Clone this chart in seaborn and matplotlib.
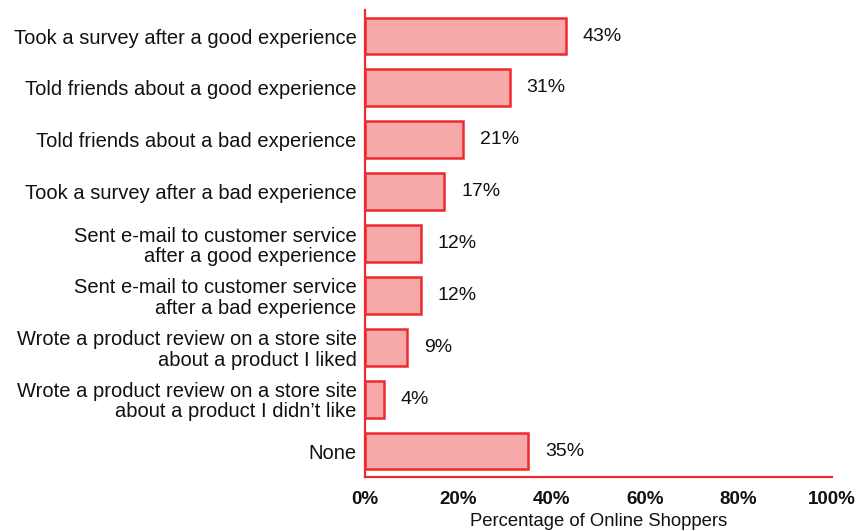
import matplotlib
matplotlib.use("Agg")
import matplotlib.pyplot as plt
import seaborn as sns
import pandas as pd

categories = [
    "Took a survey after a good experience",
    "Told friends about a good experience",
    "Told friends about a bad experience",
    "Took a survey after a bad experience",
    "Sent e-mail to customer service\nafter a good experience",
    "Sent e-mail to customer service\nafter a bad experience",
    "Wrote a product review on a store site\nabout a product I liked",
    "Wrote a product review on a store site\nabout a product I didn\u2019t like",
    "None",
]
values = [43, 31, 21, 17, 12, 12, 9, 4, 35]
xticks = [0, 20, 40, 60, 80, 100]
xtick_labels = ["0%", "20%", "40%", "60%", "80%", "100%"]

sns.set_style("white")
plt.rcParams['font.family'] = ['Liberation Sans', 'DejaVu Sans']

df = pd.DataFrame({"cat": categories, "val": values})

fig = plt.figure(figsize=(8.66, 5.31), dpi=100)
ax = fig.add_axes([0.4215, 0.1017, 0.5392, 0.8793])
sns.barplot(data=df, x="val", y="cat", orient="h", ax=ax,
            color="#F7A9A9", edgecolor="#EE2A2E", linewidth=1.8,
            width=0.71, saturation=1)
ax.set_xlim(0, 100)
ax.set_ylim(8.5, -0.5)
ax.set_xticks(xticks)
ax.set_xticklabels(xtick_labels, fontweight="bold", fontsize=13.5)
ax.tick_params(axis="both", length=0, colors="#111111")
ax.tick_params(axis="x", pad=10)
ax.tick_params(axis="y", pad=6, labelsize=14.5)
for lab in ax.get_yticklabels():
    lab.set_horizontalalignment("right")
    lab.set_multialignment("right")
    lab.set_linespacing(1.08)
ax.set_ylabel("")
ax.set_xlabel("Percentage of Online Shoppers", fontsize=13.3, labelpad=4, color="#111111")
for s in ["top", "right"]:
    ax.spines[s].set_visible(False)
for s in ["left", "bottom"]:
    ax.spines[s].set_color("#EE2A2E")
    ax.spines[s].set_linewidth(1.6)
ax.bar_label(ax.containers[0], labels=[f"{v}%" for v in values], padding=12, fontsize=14, color="#111111")

fig.savefig("out.png", dpi=100)
